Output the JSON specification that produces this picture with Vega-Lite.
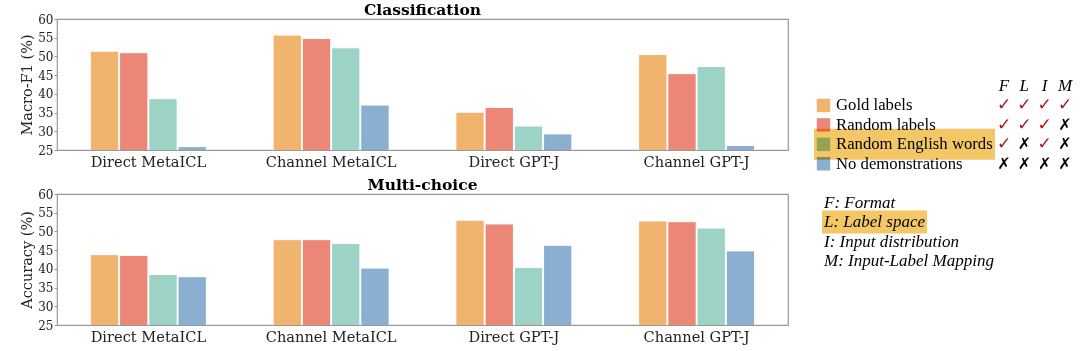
{
  "$schema": "https://vega.github.io/schema/vega-lite/v6.json",
  "background": "white",
  "padding": {"left": 19, "top": 1, "right": 0, "bottom": 0},
  "config": {
    "font": "DejaVu Serif",
    "view": {"stroke": "#999999", "strokeWidth": 1.2},
    "title": {"font": "DejaVu Serif", "fontSize": 15.5, "fontWeight": "bold", "color": "black", "frame": "group", "anchor": "middle", "offset": -5}
  },
  "datasets": {
    "bars": [
      {"task": "Classification", "model": "Direct MetaICL", "condition": "Gold labels", "value": 51.4},
      {"task": "Classification", "model": "Direct MetaICL", "condition": "Random labels", "value": 51.0},
      {"task": "Classification", "model": "Direct MetaICL", "condition": "Random English words", "value": 38.7},
      {"task": "Classification", "model": "Direct MetaICL", "condition": "No demonstrations", "value": 25.9},
      {"task": "Classification", "model": "Channel MetaICL", "condition": "Gold labels", "value": 55.7},
      {"task": "Classification", "model": "Channel MetaICL", "condition": "Random labels", "value": 54.8},
      {"task": "Classification", "model": "Channel MetaICL", "condition": "Random English words", "value": 52.3},
      {"task": "Classification", "model": "Channel MetaICL", "condition": "No demonstrations", "value": 37.0},
      {"task": "Classification", "model": "Direct GPT-J", "condition": "Gold labels", "value": 35.1},
      {"task": "Classification", "model": "Direct GPT-J", "condition": "Random labels", "value": 36.4},
      {"task": "Classification", "model": "Direct GPT-J", "condition": "Random English words", "value": 31.4},
      {"task": "Classification", "model": "Direct GPT-J", "condition": "No demonstrations", "value": 29.3},
      {"task": "Classification", "model": "Channel GPT-J", "condition": "Gold labels", "value": 50.5},
      {"task": "Classification", "model": "Channel GPT-J", "condition": "Random labels", "value": 45.4},
      {"task": "Classification", "model": "Channel GPT-J", "condition": "Random English words", "value": 47.3},
      {"task": "Classification", "model": "Channel GPT-J", "condition": "No demonstrations", "value": 26.2},
      {"task": "Multi-choice", "model": "Direct MetaICL", "condition": "Gold labels", "value": 43.8},
      {"task": "Multi-choice", "model": "Direct MetaICL", "condition": "Random labels", "value": 43.6},
      {"task": "Multi-choice", "model": "Direct MetaICL", "condition": "Random English words", "value": 38.5},
      {"task": "Multi-choice", "model": "Direct MetaICL", "condition": "No demonstrations", "value": 37.9},
      {"task": "Multi-choice", "model": "Channel MetaICL", "condition": "Gold labels", "value": 47.8},
      {"task": "Multi-choice", "model": "Channel MetaICL", "condition": "Random labels", "value": 47.8},
      {"task": "Multi-choice", "model": "Channel MetaICL", "condition": "Random English words", "value": 46.8},
      {"task": "Multi-choice", "model": "Channel MetaICL", "condition": "No demonstrations", "value": 40.2},
      {"task": "Multi-choice", "model": "Direct GPT-J", "condition": "Gold labels", "value": 53.0},
      {"task": "Multi-choice", "model": "Direct GPT-J", "condition": "Random labels", "value": 52.0},
      {"task": "Multi-choice", "model": "Direct GPT-J", "condition": "Random English words", "value": 40.4},
      {"task": "Multi-choice", "model": "Direct GPT-J", "condition": "No demonstrations", "value": 46.3},
      {"task": "Multi-choice", "model": "Channel GPT-J", "condition": "Gold labels", "value": 52.8},
      {"task": "Multi-choice", "model": "Channel GPT-J", "condition": "Random labels", "value": 52.6},
      {"task": "Multi-choice", "model": "Channel GPT-J", "condition": "Random English words", "value": 50.9},
      {"task": "Multi-choice", "model": "Channel GPT-J", "condition": "No demonstrations", "value": 44.8}
    ],
    "legendRows": [
      {"row": "Gold labels", "F": "✓", "L": "✓", "I": "✓", "M": "✓"},
      {"row": "Random labels", "F": "✓", "L": "✓", "I": "✓", "M": "✗"},
      {"row": "Random English words", "F": "✓", "L": "✗", "I": "✓", "M": "✗"},
      {"row": "No demonstrations", "F": "✗", "L": "✗", "I": "✗", "M": "✗"}
    ],
    "header": [
      {"row": "header", "aspect": "F"},
      {"row": "header", "aspect": "L"},
      {"row": "header", "aspect": "I"},
      {"row": "header", "aspect": "M"}
    ],
    "notes": [
      {"row": "F: Format"},
      {"row": "L: Label space"},
      {"row": "I: Input distribution"},
      {"row": "M: Input-Label Mapping"}
    ]
  },
  "spacing": 25,
  "hconcat": [
    {
      "spacing": 6,
      "vconcat": [
        {
          "title": {"text": "Classification"},
          "width": 731,
          "height": 131,
          "data": {"name": "bars"},
          "transform": [{"filter": "datum.task == 'Classification'"}],
          "mark": {"type": "bar", "stroke": "white", "strokeWidth": 1, "clip": true},
          "encoding": {
            "x": {"field": "model", "type": "nominal", "sort": ["Direct MetaICL", "Channel MetaICL", "Direct GPT-J", "Channel GPT-J"],
                  "scale": {"paddingInner": 0.365, "paddingOuter": 0.1825},
                  "axis": {"title": null, "labelAngle": 0, "labelFontSize": 14.6, "labelColor": "#222222", "ticks": false, "domain": false, "labelPadding": 4}},
            "xOffset": {"field": "condition", "type": "nominal", "sort": ["Gold labels", "Random labels", "Random English words", "No demonstrations"], "scale": {"paddingInner": 0.03}},
            "y": {"field": "value", "type": "quantitative",
                  "scale": {"domain": [25, 60], "zero": false, "nice": false},
                  "axis": {"title": "Macro-F1 (%)", "values": [25, 30, 35, 40, 45, 50, 55, 60], "grid": false, "domain": false, "tickColor": "#999999", "tickSize": 3, "labelPadding": 1, "labelFontSize": 12, "labelColor": "#222222", "titleFontSize": 14.5, "titleFontWeight": "normal", "titleColor": "#222222", "titlePadding": 3}},
            "color": {"field": "condition", "type": "nominal",
                      "scale": {"domain": ["Gold labels", "Random labels", "Random English words", "No demonstrations"], "range": ["#F1B46E", "#EC8677", "#9DD2C7", "#8AAFD0"]},
                      "legend": null}
          }
        },
        {
          "title": {"text": "Multi-choice"},
          "width": 731,
          "height": 131,
          "data": {"name": "bars"},
          "transform": [{"filter": "datum.task == 'Multi-choice'"}],
          "mark": {"type": "bar", "stroke": "white", "strokeWidth": 1, "clip": true},
          "encoding": {
            "x": {"field": "model", "type": "nominal", "sort": ["Direct MetaICL", "Channel MetaICL", "Direct GPT-J", "Channel GPT-J"],
                  "scale": {"paddingInner": 0.365, "paddingOuter": 0.1825},
                  "axis": {"title": null, "labelAngle": 0, "labelFontSize": 14.6, "labelColor": "#222222", "ticks": false, "domain": false, "labelPadding": 4}},
            "xOffset": {"field": "condition", "type": "nominal", "sort": ["Gold labels", "Random labels", "Random English words", "No demonstrations"], "scale": {"paddingInner": 0.03}},
            "y": {"field": "value", "type": "quantitative",
                  "scale": {"domain": [25, 60], "zero": false, "nice": false},
                  "axis": {"title": "Accuracy (%)", "values": [25, 30, 35, 40, 45, 50, 55, 60], "grid": false, "domain": false, "tickColor": "#999999", "tickSize": 3, "labelPadding": 1, "labelFontSize": 12, "labelColor": "#222222", "titleFontSize": 14.5, "titleFontWeight": "normal", "titleColor": "#222222", "titlePadding": 3}},
            "color": {"field": "condition", "type": "nominal",
                      "scale": {"domain": ["Gold labels", "Random labels", "Random English words", "No demonstrations"], "range": ["#F1B46E", "#EC8677", "#9DD2C7", "#8AAFD0"]},
                      "legend": null}
          }
        }
      ]
    },
    {
      "width": 258,
      "height": 250,
      "view": {"stroke": null},
      "encoding": {
        "y": {"field": "row", "type": "nominal", "axis": null,
              "scale": {"type": "point", "padding": 0, "domain": ["header", "Gold labels", "Random labels", "Random English words", "No demonstrations", "blank", "F: Format", "L: Label space", "I: Input distribution", "M: Input-Label Mapping"], "range": [67, 242]}}
      },
      "layer": [
        {
          "data": {"name": "legendRows"},
          "mark": {"type": "square", "size": 180, "opacity": 1},
          "encoding": {
            "x": {"value": 9.5},
            "color": {"field": "row", "type": "nominal", "legend": null,
                      "scale": {"domain": ["Gold labels", "Random labels", "Random English words", "No demonstrations"], "range": ["#F1B46E", "#EC8677", "#9DD2C7", "#8AAFD0"]}}
          }
        },
        {
          "data": {"name": "legendRows"},
          "mark": {"type": "text", "align": "left", "baseline": "middle", "font": "Liberation Serif", "fontSize": 16.7, "color": "black"},
          "encoding": {"x": {"value": 22}, "text": {"field": "row"}}
        },
        {
          "data": {"name": "header"},
          "mark": {"type": "text", "align": "center", "baseline": "middle", "font": "Liberation Serif", "fontStyle": "italic", "fontSize": 17, "color": "black"},
          "encoding": {
            "x": {"field": "aspect", "type": "nominal", "axis": null, "sort": ["F", "L", "I", "M"], "scale": {"type": "point", "padding": 0, "domain": ["F", "L", "I", "M"], "range": [190, 251]}},
            "text": {"field": "aspect"}
          }
        },
        {
          "data": {"name": "legendRows"},
          "transform": [{"fold": ["F", "L", "I", "M"], "as": ["aspect", "mark"]}, {"filter": "datum.mark == '✓'"}],
          "mark": {"type": "text", "align": "center", "baseline": "middle", "font": "DejaVu Sans", "fontSize": 17, "color": "#A31A1C"},
          "encoding": {
            "x": {"field": "aspect", "type": "nominal", "axis": null, "sort": ["F", "L", "I", "M"], "scale": {"type": "point", "padding": 0, "domain": ["F", "L", "I", "M"], "range": [190, 251]}},
            "text": {"field": "mark"}
          }
        },
        {
          "data": {"name": "legendRows"},
          "transform": [{"fold": ["F", "L", "I", "M"], "as": ["aspect", "mark"]}, {"filter": "datum.mark == '✗'"}],
          "mark": {"type": "text", "align": "center", "baseline": "middle", "font": "DejaVu Sans", "fontSize": 16, "fontWeight": "bold", "color": "black"},
          "encoding": {
            "x": {"field": "aspect", "type": "nominal", "axis": null, "sort": ["F", "L", "I", "M"], "scale": {"type": "point", "padding": 0, "domain": ["F", "L", "I", "M"], "range": [190, 251]}},
            "text": {"field": "mark"}
          }
        },
        {
          "data": {"name": "notes"},
          "mark": {"type": "text", "align": "left", "baseline": "middle", "font": "Liberation Serif", "fontStyle": "italic", "fontSize": 17, "color": "black"},
          "encoding": {"x": {"value": 10}, "text": {"field": "row"}}
        },
        {
          "data": {"name": "notes"},
          "transform": [{"filter": "datum.row == 'L: Label space'"}],
          "mark": {"type": "rect", "color": "#F4C766", "blend": "multiply", "height": 23, "x": 8, "x2": 113},
          "encoding": {}
        },
        {
          "data": {"name": "legendRows"},
          "transform": [{"filter": "datum.row == 'Random English words'"}],
          "mark": {"type": "rect", "color": "#F4C766", "blend": "multiply", "height": 31, "x": 0, "x2": 181},
          "encoding": {}
        }
      ]
    }
  ]
}
